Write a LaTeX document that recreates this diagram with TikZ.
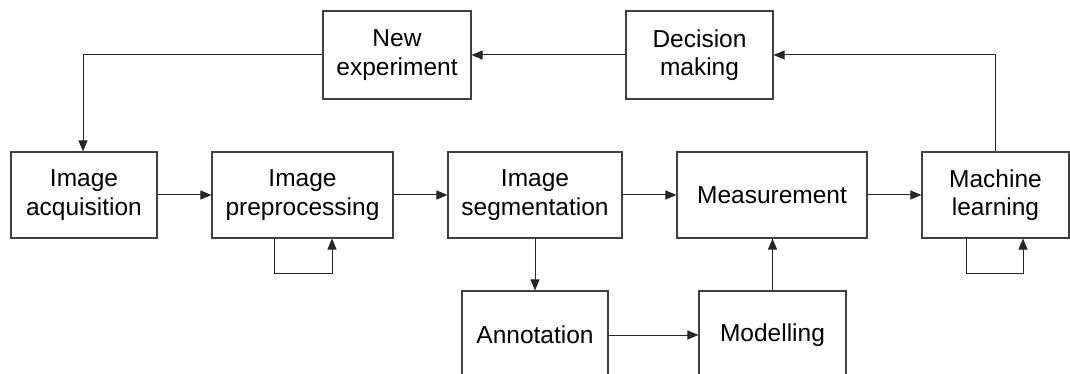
\documentclass[tikz,border=0pt]{standalone}
\usepackage{fontspec}
\setmainfont{Liberation Sans}
\usetikzlibrary{arrows.meta}
\begin{document}
\begin{tikzpicture}[x=1pt,y=-1pt,
  box/.style={draw=black!75,line width=1.1pt,rectangle,align=center,inner sep=0pt,
    font=\fontsize{24.5}{28.5}\selectfont,text=black},
  conn/.style={draw=black!85,line width=1pt,-{Triangle[length=11pt,width=9pt]}},
  plain/.style={draw=black!85,line width=1pt}]
\useasboundingbox (0,0) rectangle (1070,374);
\clip (0,0) rectangle (1070,374);
\node[box,minimum width=148pt,minimum height=88pt] (newexp) at (397,55) {New\\experiment};
\node[box,minimum width=147pt,minimum height=88pt] (dec) at (699.5,55) {Decision\\making};
\node[box,minimum width=146pt,minimum height=86pt] (acq) at (84,195) {Image\\acquisition};
\node[box,minimum width=181pt,minimum height=86pt] (pre) at (302.5,195) {Image\\preprocessing};
\node[box,minimum width=174pt,minimum height=86pt] (seg) at (535,195) {Image\\segmentation};
\node[box,minimum width=190pt,minimum height=86pt] (meas) at (772,195) {Measurement};
\node[box,minimum width=147pt,minimum height=86pt] (ml) at (995.5,195) {Machine\\learning};
\node[box,minimum width=146pt,minimum height=88pt] (ann) at (535,335) {Annotation};
\node[box,minimum width=147pt,minimum height=88pt] (mod) at (772.5,335) {Modelling};
\coordinate (c1) at (83,55);
\coordinate (pl1) at (274,273);
\coordinate (pl2) at (332,273);
\coordinate (ml1) at (966,273);
\coordinate (ml2) at (1023,273);
\draw[conn] (newexp.west) -- (c1) -- (acq.north -| c1);
\draw[conn] (dec.west) -- (newexp.east);
\draw[conn] (ml.north) |- (dec.east);
\draw[conn] (acq.east) -- (pre.west);
\draw[conn] (pre.east) -- (seg.west);
\draw[conn] (seg.east) -- (meas.west);
\draw[conn] (meas.east) -- (ml.west);
\draw[conn] (seg.south) -- (ann.north);
\draw[conn] (ann.east) -- (mod.west);
\draw[conn] (mod.north) -- (meas.south -| mod.north);
\draw[conn] (pre.south -| pl1) -- (pl1) -- (pl2) -- (pre.south -| pl2);
\draw[conn] (ml.south -| ml1) -- (ml1) -- (ml2) -- (ml.south -| ml2);
\end{tikzpicture}
\end{document}
